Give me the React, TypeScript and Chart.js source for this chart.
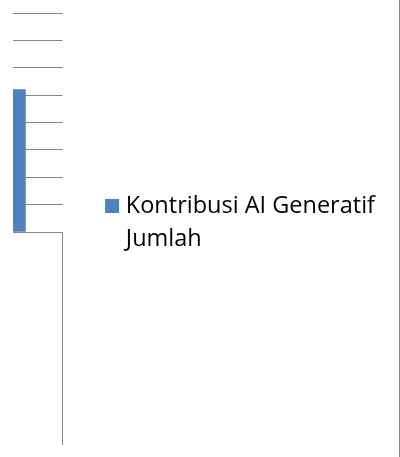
import React, { useEffect, useRef } from 'react';
import { Chart, registerables } from 'chart.js';

Chart.register(...registerables);

// Category slots of the (cropped) column chart
const categories = ['', '', '', ''];
// Series values
const kontribusiValues: (number | null)[] = [5.2, null, null, null];
const jumlahValues: (number | null)[] = [null, null, null, null];
const seriesLabels = ['Kontribusi AI Generatif', 'Jumlah'];
// Value axis
const yMin = 0;
const yMax = 8;
const yStep = 1;

const GRID = '#868686';

export default function App() {
  const ref = useRef<HTMLCanvasElement>(null);

  useEffect(() => {
    if (!ref.current) return;
    const chart = new Chart(ref.current, {
      type: 'bar',
      data: {
        labels: categories,
        datasets: [
          {
            label: seriesLabels[0],
            data: kontribusiValues,
            backgroundColor: '#4F81BD',
            borderWidth: 0,
            categoryPercentage: 1,
            barPercentage: 1,
            grouped: false,
          },
          {
            label: seriesLabels[1],
            data: jumlahValues,
            backgroundColor: 'rgba(0,0,0,0)',
            borderWidth: 0,
            categoryPercentage: 1,
            barPercentage: 1,
            grouped: false,
          },
        ],
      },
      options: {
        responsive: false,
        animation: false,
        layout: { padding: { left: 13, right: 14, top: 0, bottom: 12 } },
        plugins: {
          legend: {
            position: 'right',
            align: 'center',
            maxWidth: 1000,
            labels: {
              font: { family: 'Open Sans', size: 23.5 },
              color: '#000000',
              padding: 9.5,
              usePointStyle: true,
              pointStyle: 'rect',
              boxWidth: 4,
              boxHeight: 14,
            },
          },
          tooltip: { enabled: false },
        },
        scales: {
          x: {
            type: 'category',
            position: 'bottom',
            offset: true,
            ticks: { display: false },
            grid: {
              offset: true,
              drawOnChartArea: false,
              drawTicks: true,
              tickLength: 213,
              lineWidth: 1,
              color: (c: any) => (c.type === 'tick' ? 'rgba(0,0,0,0)' : GRID),
            },
            border: { display: true, color: GRID, width: 1 },
          },
          x2: {
            type: 'category',
            position: 'top',
            ticks: { display: false },
            grid: { display: false },
            border: { display: false },
            afterFit: (s: any) => {
              s.height = 13;
            },
          },
          y: {
            type: 'linear',
            min: yMin,
            max: yMax,
            ticks: { display: false, stepSize: yStep },
            grid: { color: GRID, drawTicks: false, lineWidth: 1 },
            border: { display: false },
          },
          y2: {
            type: 'linear',
            position: 'right',
            ticks: { display: false },
            grid: { display: false },
            border: { display: false },
            afterFit: (s: any) => {
              s.width = 38;
            },
          },
        },
      } as any,
    });
    return () => chart.destroy();
  }, []);

  return (
    <div
      style={{
        position: 'absolute',
        left: 0,
        top: 0,
        width: 400,
        height: 457,
        boxSizing: 'border-box',
        borderRight: `1px solid ${GRID}`,
        background: '#fff',
      }}
    >
      <canvas ref={ref} width={399} height={457} style={{ display: 'block' }} />
    </div>
  );
}
